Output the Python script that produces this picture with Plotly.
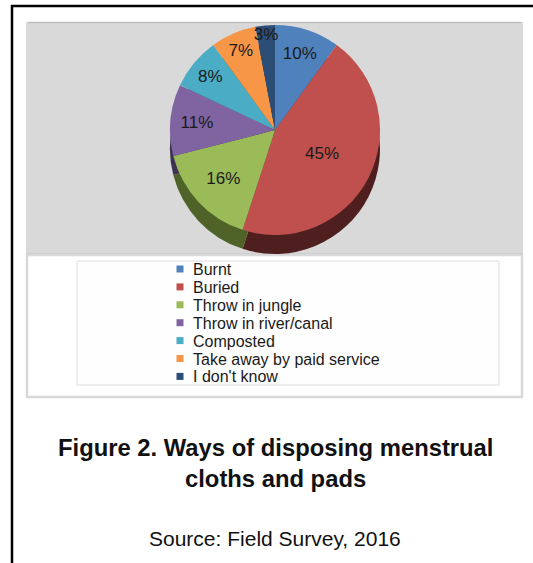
import plotly.graph_objects as go

# ---- data ----
categories = ["Burnt", "Buried", "Throw in jungle", "Throw in river/canal",
              "Composted", "Take away by paid service", "I don't know"]
percent_values = [10, 45, 16, 11, 8, 7, 3]
slice_colors = ["#4F81BD", "#C0504D", "#9BBB59", "#8064A2", "#4BACC6", "#F79646", "#2C4D75"]
side_colors = ["#2B4A70", "#4E1F1E", "#4F6228", "#3F3151", "#215968", "#984807", "#10253F"]
title_lines = ["Figure 2. Ways of disposing menstrual", "cloths and pads"]
source_text = "Source: Field Survey, 2016"

W, H = 533, 563
FONT = "Liberation Sans, Arial, Helvetica, sans-serif"


def px(x):
    return x / W


def py(y):
    return 1 - y / H


# pie geometry (pixels)
cx, cy, r, depth = 275, 130, 105, 19

fig = go.Figure()

# 3D side (darker copy, shifted down)
fig.add_trace(go.Pie(
    labels=categories, values=percent_values, sort=False, direction="clockwise", rotation=0,
    marker=dict(colors=side_colors, line=dict(width=0)),
    textinfo="none", hoverinfo="skip", showlegend=False,
    domain=dict(x=[px(cx - r), px(cx + r)], y=[py(cy + depth + r), py(cy + depth - r)]),
))

# top face
fig.add_trace(go.Pie(
    labels=categories, values=percent_values, sort=False, direction="clockwise", rotation=0,
    marker=dict(colors=slice_colors, line=dict(width=0)),
    texttemplate="%{value}%", textposition="inside", insidetextorientation="horizontal",
    textfont=dict(family=FONT, size=17, color="#1A1A1A"),
    showlegend=False,
    domain=dict(x=[px(cx - r), px(cx + r)], y=[py(cy + r), py(cy - r)]),
))

shapes = [
    # page frame lines
    dict(type="line", xref="paper", yref="paper", x0=px(12), x1=px(12), y0=py(5), y1=py(563),
         line=dict(color="black", width=2.5)),
    dict(type="line", xref="paper", yref="paper", x0=px(11), x1=px(533), y0=py(6), y1=py(6),
         line=dict(color="black", width=2.5)),
    # gray plot area
    dict(type="rect", xref="paper", yref="paper", x0=px(26), x1=px(523), y0=py(254), y1=py(22),
         fillcolor="#D9D9D9", line=dict(width=0), layer="below"),
    dict(type="line", xref="paper", yref="paper", x0=px(28), x1=px(521), y0=py(22.5), y1=py(22.5),
         line=dict(color="#BDBDBD", width=1.5), layer="below"),
    dict(type="line", xref="paper", yref="paper", x0=px(26), x1=px(523), y0=py(254), y1=py(254),
         line=dict(color="#C4C4C4", width=1.5), layer="below"),
    # legend panel
    dict(type="rect", xref="paper", yref="paper", x0=px(27), x1=px(522), y0=py(397), y1=py(255),
         fillcolor="white", line=dict(color="#D9D9D9", width=2.5), layer="below"),
    dict(type="rect", xref="paper", yref="paper", x0=px(77), x1=px(499), y0=py(385), y1=py(261),
         fillcolor="#FEFEFE", line=dict(color="#DCDCDC", width=1), layer="below"),
]

annotations = []
row0, row_gap = 269, 17.9
for i, (name, col) in enumerate(zip(categories, slice_colors)):
    yc = row0 + i * row_gap
    shapes.append(dict(type="rect", xref="paper", yref="paper",
                       x0=px(176.5), x1=px(183.5), y0=py(yc + 3.5), y1=py(yc - 3.5),
                       fillcolor=col, line=dict(width=0)))
    annotations.append(dict(x=px(191), y=py(yc + 0.5), xref="paper", yref="paper",
                            xanchor="left", yanchor="middle", showarrow=False, text=name,
                            font=dict(family=FONT, size=16, color="#1A1A1A")))

annotations.append(dict(x=px(275), y=py(447), xref="paper", yref="paper", xanchor="center",
                        yanchor="middle", showarrow=False, text="<b>" + title_lines[0] + "</b>",
                        font=dict(family=FONT, size=23.8, color="#111111")))
annotations.append(dict(x=px(275), y=py(478), xref="paper", yref="paper", xanchor="center",
                        yanchor="middle", showarrow=False, text="<b>" + title_lines[1] + "</b>",
                        font=dict(family=FONT, size=23.8, color="#111111")))
annotations.append(dict(x=px(275), y=py(538), xref="paper", yref="paper", xanchor="center",
                        yanchor="middle", showarrow=False, text=source_text,
                        font=dict(family=FONT, size=21, color="#111111")))

fig.update_layout(
    width=W, height=H, margin=dict(l=0, r=0, t=0, b=0),
    paper_bgcolor="white", plot_bgcolor="white",
    shapes=shapes, annotations=annotations,
    uniformtext=dict(minsize=17, mode="show"),
    showlegend=False,
)

fig.write_html("out.html", config={"displayModeBar": False},
               post_script="document.body.style.margin='0';document.body.style.overflow='hidden';")
